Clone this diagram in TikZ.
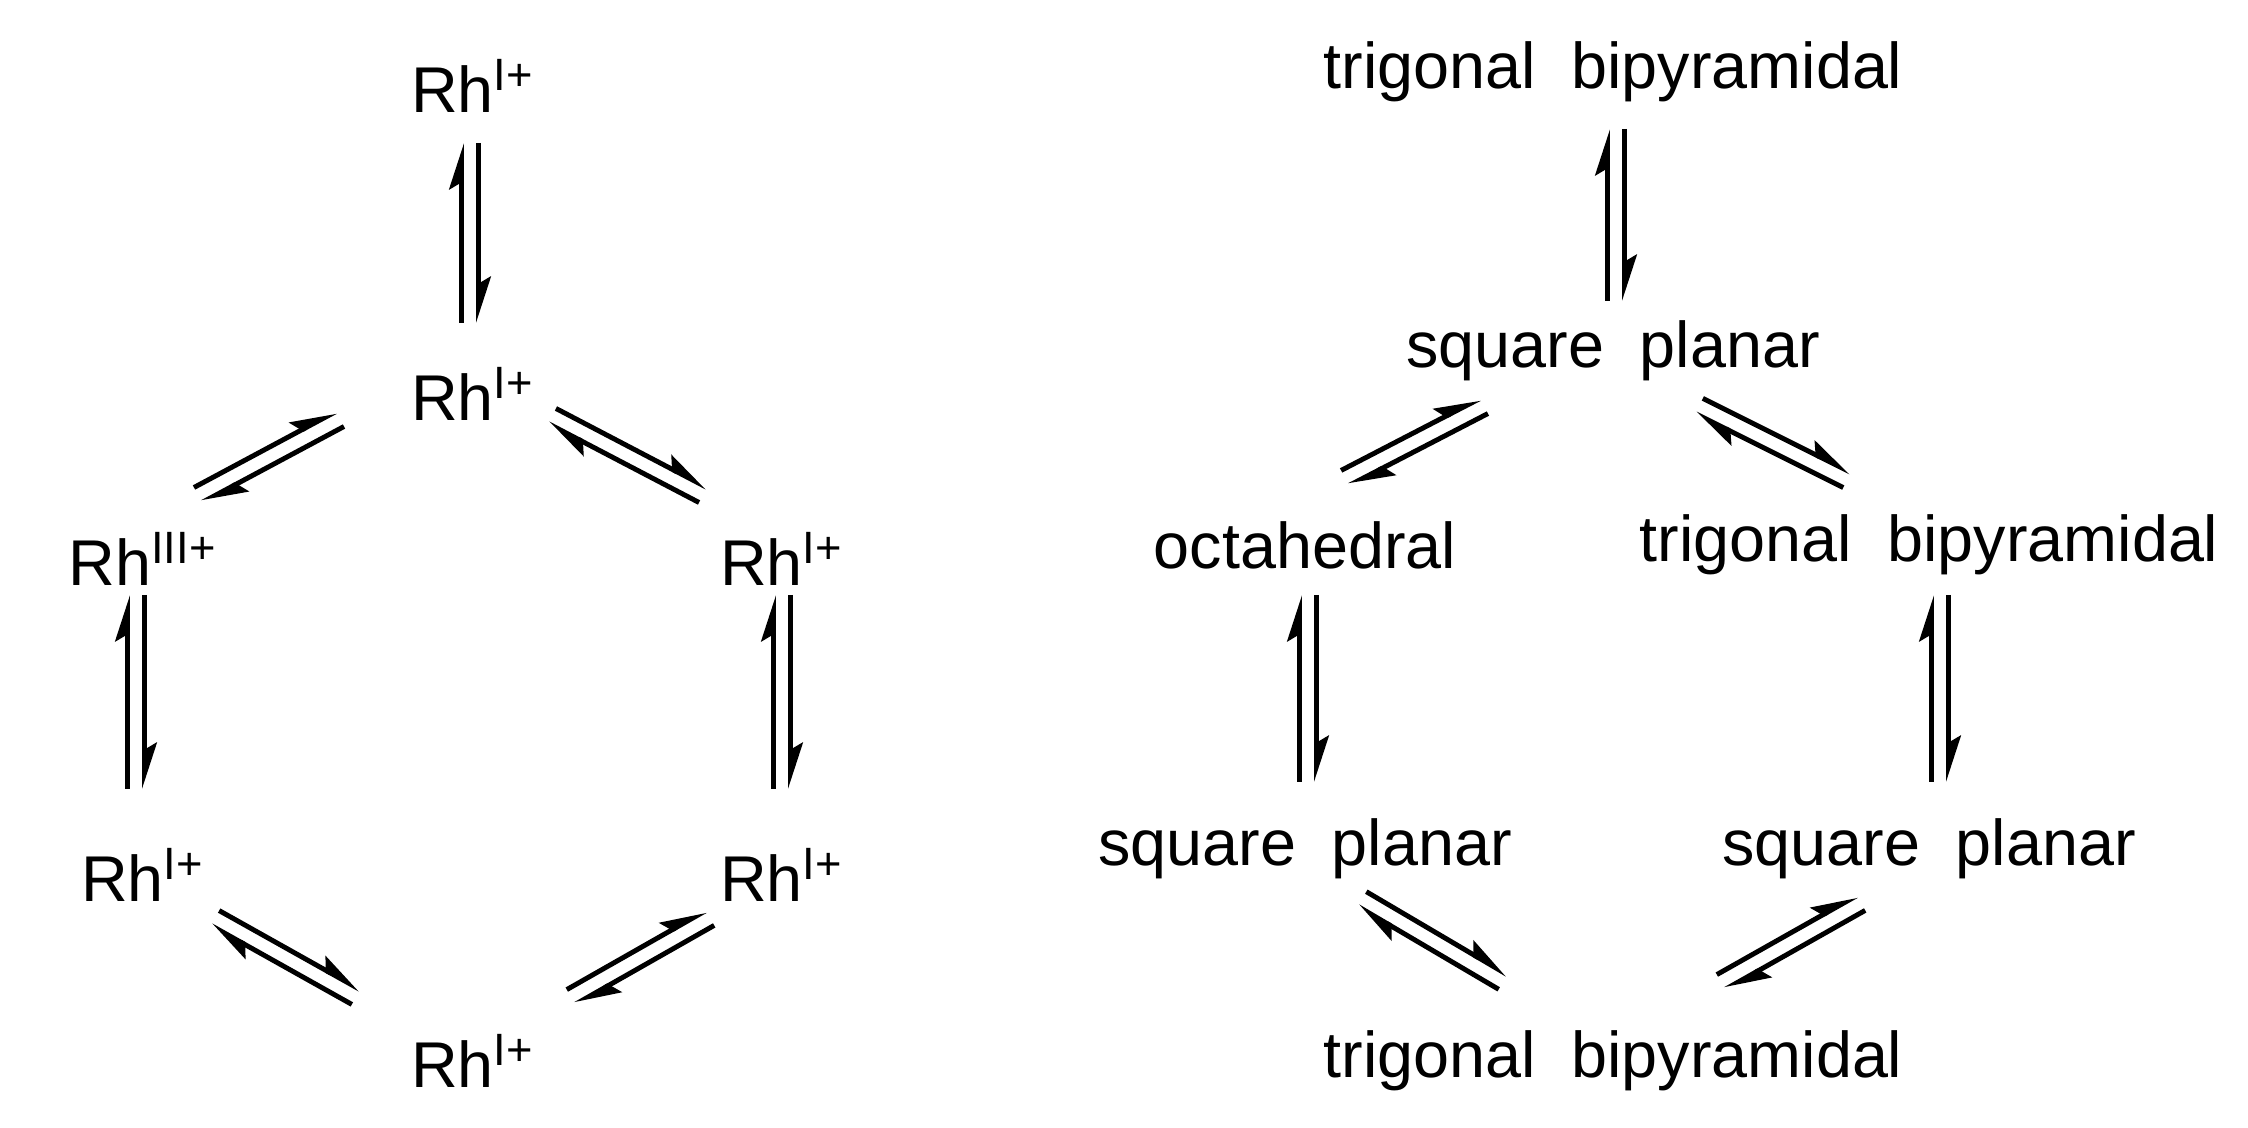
\documentclass[tikz,border=0pt]{standalone}
\usepackage{fontspec}
\setmainfont{Liberation Sans}
\usetikzlibrary{arrows.meta,calc}
\tikzset{
  lbl/.style={font=\fontsize{18.4}{22}\selectfont, inner sep=0pt},
  harp/.style={line width=1.4pt, -{Stealth[left,length=11pt,width=7pt,inset=2pt]}}
}
\newcommand\eqarr[4]{%
  \coordinate (#3) at #1; \coordinate (#4) at #2;
  \draw[harp] ($(#3)!0.085cm!90:(#4)$) -- ($(#4)!0.085cm!-90:(#3)$);
  \draw[harp] ($(#4)!0.085cm!90:(#3)$) -- ($(#3)!0.085cm!-90:(#4)$);
}
\begin{document}
\begin{tikzpicture}[x=0.01cm,y=-0.01cm]
\useasboundingbox (0,0) rectangle (2248,1128);
\node[lbl] (r1) at (473,86) {Rh\textsuperscript{I+}};
\node[lbl] (r2) at (473,394) {Rh\textsuperscript{I+}};
\node[lbl] (r3) at (143,559) {Rh\textsuperscript{III+}};
\node[lbl] (r4) at (782,559) {Rh\textsuperscript{I+}};
\node[lbl] (r5) at (143,875) {Rh\textsuperscript{I+}};
\node[lbl] (r6) at (782,875) {Rh\textsuperscript{I+}};
\node[lbl] (r7) at (473,1061) {Rh\textsuperscript{I+}};
\node[lbl] (g1) at (1613,72) {trigonal\ \ bipyramidal};
\node[lbl] (g2) at (1613,351) {square\ \ planar};
\node[lbl] (g3) at (1305,545) {octahedral};
\node[lbl] (g4) at (1929,545) {trigonal\ \ bipyramidal};
\node[lbl] (g5) at (1305,849) {square\ \ planar};
\node[lbl] (g6) at (1929,849) {square\ \ planar};
\node[lbl] (g7) at (1613,1061) {trigonal\ \ bipyramidal};
\eqarr{(470,143)}{(470,323)}{a1}{b1}
\eqarr{(340,419)}{(198,495)}{a2}{b2}
\eqarr{(552,416)}{(703,495)}{a3}{b3}
\eqarr{(136,595)}{(136,789)}{a4}{b4}
\eqarr{(782,595)}{(782,789)}{a5}{b5}
\eqarr{(215,918)}{(356,997)}{a6}{b6}
\eqarr{(710,918)}{(571,997)}{a7}{b7}
\eqarr{(1616,129)}{(1616,301)}{a8}{b8}
\eqarr{(1484,406)}{(1345,478)}{a9}{b9}
\eqarr{(1699,406)}{(1847,480)}{a10}{b10}
\eqarr{(1308,595)}{(1308,782)}{a11}{b11}
\eqarr{(1940,595)}{(1940,782)}{a12}{b12}
\eqarr{(1362,899)}{(1503,982)}{a13}{b13}
\eqarr{(1861,903)}{(1721,982)}{a14}{b14}
\end{tikzpicture}
\end{document}
